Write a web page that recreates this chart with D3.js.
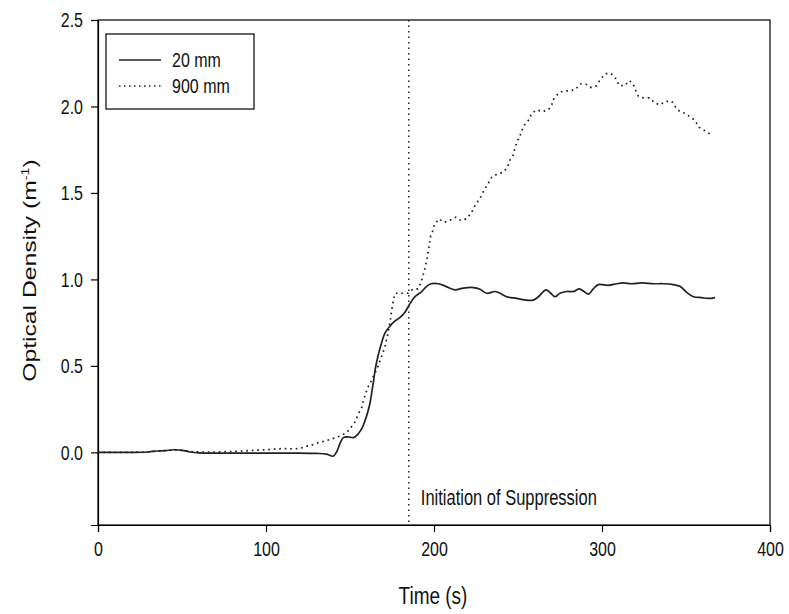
<!DOCTYPE html>
<html>
<head>
<meta charset="utf-8">
<script src="https://cdn.jsdelivr.net/npm/d3@7"></script>
<style>
    body { margin: 0; background: #fff; }
    text { font-family: "Liberation Sans", Arial, sans-serif; fill: #111; }
</style>
</head>
<body>
<div id="chart"></div>
<script>
// 20 mm probe (solid)
const time20 = [0, 10, 20, 30, 35, 40, 45, 50, 55, 60, 80, 100, 120, 130, 136, 140, 142, 144, 146, 148.6,
    152, 154.6, 157, 159, 160.5, 162, 163, 164, 165, 167, 169, 170.8, 173.8, 176.8, 179.8, 182.7, 185.7,
    188.7, 192.7, 195.6, 198.2, 202.6, 207, 212.5, 217.5, 223.4, 227.4, 231.4, 236.3, 239.3, 243.3, 249.2,
    255.2, 259.1, 262.1, 266.7, 269.5, 272, 275, 279, 283, 286.5, 289.3, 291.9, 294.8, 297.8, 303.8, 308.7,
    312.7, 317.7, 323.6, 330.6, 336.5, 342.5, 346.4, 350.4, 354.4, 359.3, 363.3, 367.3];
const od20 = [0, 0, 0, 0.002, 0.008, 0.01, 0.015, 0.012, 0.002, -0.003, -0.004, -0.004, -0.004, -0.006, -0.01,
    -0.022, 0.002, 0.05, 0.085, 0.09, 0.085, 0.104, 0.137, 0.185, 0.23, 0.29, 0.35, 0.41, 0.48, 0.57, 0.64,
    0.69, 0.73, 0.76, 0.78, 0.81, 0.86, 0.90, 0.93, 0.96, 0.975, 0.975, 0.96, 0.94, 0.95, 0.953, 0.943, 0.92,
    0.93, 0.92, 0.90, 0.89, 0.88, 0.88, 0.90, 0.94, 0.92, 0.90, 0.92, 0.93, 0.93, 0.945, 0.93, 0.915, 0.945,
    0.97, 0.966, 0.975, 0.98, 0.975, 0.98, 0.975, 0.975, 0.97, 0.96, 0.925, 0.90, 0.895, 0.89, 0.895];

// 900 mm probe (dotted)
const time900 = [0, 10, 20, 30, 35, 40, 45, 50, 55, 60, 70, 80, 90, 100, 110, 117, 121, 124, 128, 131, 134.5,
    137.7, 140.7, 144, 148, 150, 152.6, 154, 155.4, 157, 158, 159, 160, 161.3, 162.5, 165.9, 168.3, 170.8,
    172.4, 173.8, 174.8, 175.8, 177, 180, 184.5, 187.7, 190.5, 192.2, 193.4, 194.5, 195.4, 196.4, 197.2, 198,
    199.2, 200.4, 203, 206, 209, 213, 216, 219, 222, 224, 226, 228, 230, 232, 234.3, 237.7, 241.3, 243.8,
    245.2, 247.2, 248.2, 249.2, 251.2, 252.2, 254.2, 256.2, 258.2, 261.1, 264.7, 268.1, 270.1, 271, 274.4,
    277.4, 281, 284.3, 287.1, 290.3, 293.3, 296.8, 299.2, 302.4, 305.4, 308.3, 310.3, 313.5, 316.3, 318.5,
    320.2, 321.6, 324.6, 328.2, 331.5, 334.5, 337.9, 341.5, 343.5, 346.4, 349.4, 352.4, 355.4, 357.7, 361.3,
    364.3];
const od900 = [0, 0, 0, 0.003, 0.008, 0.01, 0.014, 0.012, 0.004, 0.002, 0.002, 0.005, 0.01, 0.015, 0.022,
    0.02, 0.025, 0.035, 0.045, 0.056, 0.064, 0.073, 0.083, 0.094, 0.114, 0.137, 0.17, 0.2, 0.23, 0.26, 0.3,
    0.33, 0.36, 0.39, 0.41, 0.48, 0.54, 0.61, 0.68, 0.75, 0.82, 0.88, 0.92, 0.92, 0.92, 0.945, 0.945, 0.98,
    1.02, 1.06, 1.10, 1.15, 1.20, 1.25, 1.28, 1.32, 1.35, 1.33, 1.34, 1.36, 1.34, 1.35, 1.38, 1.42, 1.45,
    1.48, 1.52, 1.55, 1.59, 1.61, 1.62, 1.65, 1.69, 1.72, 1.76, 1.79, 1.83, 1.86, 1.90, 1.92, 1.96, 1.98,
    1.97, 1.98, 2.01, 2.04, 2.08, 2.09, 2.09, 2.10, 2.13, 2.13, 2.11, 2.12, 2.16, 2.19, 2.19, 2.16, 2.12,
    2.12, 2.15, 2.13, 2.09, 2.06, 2.05, 2.05, 2.02, 2.01, 2.03, 2.03, 2.00, 1.97, 1.96, 1.94, 1.92, 1.88,
    1.86, 1.84];

const suppressionTime = 185;
const xTicks = [0, 100, 200, 300, 400];
const yTicks = [0.0, 0.5, 1.0, 1.5, 2.0, 2.5];
const seriesNames = ["20 mm", "900 mm"];

// the original figure is stretched vertically, so text is too
const stretch = 1.3;

const margin = { top: 20, right: 19, bottom: 89, left: 98 };
const width = 789 - margin.left - margin.right;
const height = 614 - margin.top - margin.bottom;

const svg = d3.select("#chart").append("svg")
    .attr("width", 789)
    .attr("height", 614);

const g = svg.append("g")
    .attr("transform", "translate(" + margin.left + "," + margin.top + ")");

const x = d3.scaleLinear().domain([0, 400]).range([0, width]);
const y = d3.scaleLinear().domain([-0.42, 2.5]).range([height, 0]);

// move x/y attrs into a transform and stretch the glyphs vertically
function tallText(sel) {
    sel.each(function () {
        const t = d3.select(this);
        const tx = +t.attr("x") || 0;
        const ty = +t.attr("y") || 0;
        t.attr("x", null).attr("y", null)
            .attr("transform", "translate(" + tx + "," + ty + ") scale(1," + stretch + ")");
    });
}

// frame
g.append("rect")
    .attr("width", width)
    .attr("height", height)
    .attr("fill", "none")
    .attr("stroke", "#000")
    .attr("stroke-width", 1.2);

const xAxis = g.append("g")
    .attr("transform", "translate(0," + height + ")")
    .call(d3.axisBottom(x).tickValues(xTicks).tickSize(7).tickPadding(9).tickFormat(d3.format("d")));

const yAxis = g.append("g")
    .call(d3.axisLeft(y).tickValues(yTicks).tickSize(7).tickPadding(8).tickFormat(d3.format(".1f")));

[xAxis, yAxis].forEach(function (a) {
    a.select(".domain").attr("stroke", "#000").attr("stroke-width", 1.2);
    a.selectAll(".tick line").attr("stroke", "#000").attr("stroke-width", 1.2);
    a.selectAll(".tick text").style("font-size", "16px").attr("fill", "#111")
        .style("font-family", "'Liberation Sans', Arial, sans-serif")
        .call(tallText);
});

// axis titles
g.append("text")
    .attr("x", x(200) - 1)
    .attr("y", height + 79)
    .attr("text-anchor", "middle")
    .style("font-size", "19px")
    .text("Time (s)")
    .call(tallText);

const yTitle = g.append("text")
    .attr("transform", "translate(" + (-62) + "," + (height / 2 - 2) + ") rotate(-90) scale(" + stretch + ",1)")
    .attr("text-anchor", "middle")
    .style("font-size", "19px");
yTitle.append("tspan").text("Optical Density (m");
yTitle.append("tspan").attr("dy", -7).style("font-size", "11px").text("-1");
yTitle.append("tspan").attr("dy", 7).text(")");

// suppression marker
g.append("line")
    .attr("x1", x(suppressionTime))
    .attr("x2", x(suppressionTime))
    .attr("y1", 0)
    .attr("y2", height - 3)
    .attr("stroke", "#222")
    .attr("stroke-width", 1.5)
    .attr("stroke-dasharray", "1.5 4");

g.append("text")
    .attr("x", x(suppressionTime) + 12)
    .attr("y", height - 20)
    .style("font-size", "16.5px")
    .text("Initiation of Suppression")
    .call(tallText);

const line = d3.line()
    .x(function (d) { return x(d[0]); })
    .y(function (d) { return y(d[1]); });

const data20 = time20.map(function (t, i) { return [t, od20[i]]; });
const data900 = time900.map(function (t, i) { return [t, od900[i]]; });

g.append("path")
    .datum(data900)
    .attr("fill", "none")
    .attr("stroke", "#222")
    .attr("stroke-width", 1.7)
    .attr("stroke-dasharray", "1.7 3.8")
    .attr("d", line.curve(d3.curveLinear));

g.append("path")
    .datum(data20)
    .attr("fill", "none")
    .attr("stroke", "#222")
    .attr("stroke-width", 1.7)
    .attr("d", line.curve(d3.curveCatmullRom.alpha(0.5)));

// legend
const legend = g.append("g").attr("transform", "translate(8,14)");
legend.append("rect")
    .attr("width", 148)
    .attr("height", 75)
    .attr("fill", "#fff")
    .attr("stroke", "#000")
    .attr("stroke-width", 1.2);

const legendRows = legend.selectAll(".row")
    .data(seriesNames)
    .enter().append("g")
    .attr("class", "row")
    .attr("transform", function (d, i) { return "translate(0," + (26 + i * 26) + ")"; });

legendRows.append("line")
    .attr("x1", 13)
    .attr("x2", 55)
    .attr("stroke", "#222")
    .attr("stroke-width", 1.5)
    .attr("stroke-dasharray", function (d, i) { return i === 1 ? "1.5 3.5" : null; });

legendRows.append("text")
    .attr("x", 66)
    .attr("y", 0)
    .attr("dy", "0.35em")
    .style("font-size", "16px")
    .text(function (d) { return d; })
    .call(tallText);
</script>
</body>
</html>
